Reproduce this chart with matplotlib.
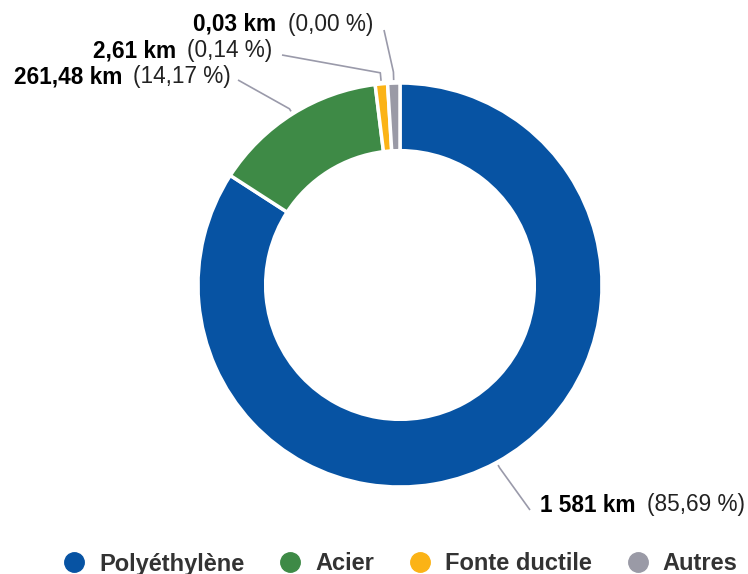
import numpy as np
import matplotlib.pyplot as plt
from matplotlib.offsetbox import TextArea, HPacker, AnnotationBbox
from matplotlib.lines import Line2D

plt.rcParams['font.family'] = ['Liberation Sans', 'DejaVu Sans']

materials = ['Polyéthylène', 'Acier', 'Fonte ductile', 'Autres']
lengths_km = [1581, 261.48, 2.61, 0.03]
length_labels = ['1 581 km', '261,48 km', '2,61 km', '0,03 km']
share_labels = ['(85,69 %)', '(14,17 %)', '(0,14 %)', '(0,00 %)']
colors = ['#0753a3', '#3e8a46', '#fbb316', '#9a9aa6']

# tiny slices get a minimum visible width
total = sum(lengths_km)
shown = [max(v, 0.01 * total) for v in lengths_km]

fig = plt.figure(figsize=(7.48, 5.74), dpi=100)
W, H = 748, 574
cx, cy, R = 400, 285, 202
ax = fig.add_axes([(cx - R) / W, (H - cy - R) / H, 2 * R / W, 2 * R / H])

wedges, _ = ax.pie(shown, colors=colors, startangle=90, counterclock=False,
                   radius=1, wedgeprops=dict(width=0.335, edgecolor='white', linewidth=2.5))
ax.set_xlim(-1, 1)
ax.set_ylim(-1, 1)
ax.set_aspect('equal')
ax.axis('off')


def px(x, y):
    # image pixel -> data coords of the pie axes
    return (x - cx) / R, (cy - y) / R


# label text anchor (image px), alignment, elbow radius, line end (image px)
label_pos = [(540, 505, 'left'), (231, 77, 'right'), (272, 51, 'right'), (373, 24, 'right')]
line_end = [(530, 510), (238, 80), (282, 55), (384, 30)]
elbow_r = [1.03, 1.03, 1.055, 1.055]

line_col = '#9a9aaa'
for i, w in enumerate(wedges):
    mid = np.deg2rad((w.theta1 + w.theta2) / 2)
    x0, y0 = 1.015 * np.cos(mid), 1.015 * np.sin(mid)
    x1, y1 = elbow_r[i] * np.cos(mid), elbow_r[i] * np.sin(mid)
    x2, y2 = px(*line_end[i])
    ax.plot([x0, x1, x2], [y0, y1, y2], color=line_col, lw=1.2, clip_on=False,
            solid_capstyle='butt')

    bold = TextArea(length_labels[i], textprops=dict(fontsize=16.3, fontweight='bold', color='black'))
    norm = TextArea(share_labels[i], textprops=dict(fontsize=16.3, color='#222222'))
    box = HPacker(children=[bold, norm], sep=8, pad=0, align='baseline')
    tx, ty, ha = label_pos[i]
    ab = AnnotationBbox(box, px(tx, ty), xycoords='data', frameon=False,
                        box_alignment=(0 if ha == 'left' else 1, 0.5), pad=0,
                        annotation_clip=False)
    ax.add_artist(ab)

handles = [Line2D([], [], marker='o', ls='', markersize=14, markerfacecolor=c,
                  markeredgecolor=c) for c in colors]
fig.legend(handles, materials, loc='center', bbox_to_anchor=(400 / W, 1 - 564 / H),
           ncol=4, frameon=False, handletextpad=0.56, columnspacing=1.44,
           prop=dict(size=17, weight='bold'), labelcolor='#333333', handlelength=1.0,
           borderpad=0, borderaxespad=0)

fig.savefig('out.png', dpi=100)
